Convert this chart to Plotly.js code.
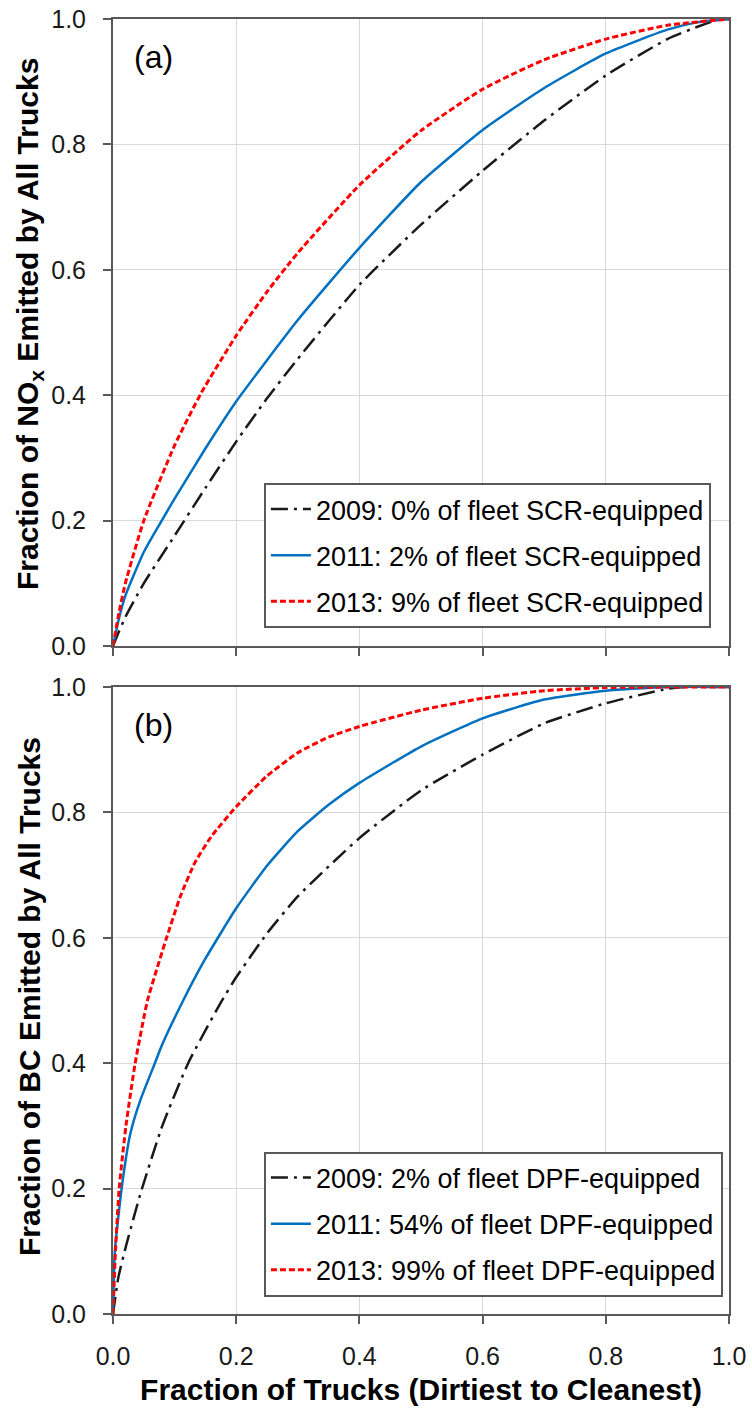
<!DOCTYPE html>
<html>
<head>
<meta charset="utf-8">
<script src="https://cdn.plot.ly/plotly-3.0.1.min.js"></script>
<style>
  html, body { margin: 0; padding: 0; background: #ffffff; }
  #chart { width: 752px; height: 1410px; }
</style>
</head>
<body>
<div id="chart"></div>
<script>
// Cumulative share of emissions vs. cumulative share of trucks (dirtiest first)

// Panel (a): NOx
const noxX2009 = [0, 0.01, 0.02, 0.05, 0.1, 0.15, 0.2, 0.25, 0.3, 0.4, 0.5, 0.6, 0.7, 0.8, 0.9, 0.95, 0.98, 1.0];
const noxY2009 = [0, 0.024, 0.046, 0.10, 0.176, 0.252, 0.326, 0.395, 0.458, 0.576, 0.672, 0.758, 0.838, 0.91, 0.968, 0.988, 0.998, 1.0];

const noxX2011 = [0, 0.01, 0.02, 0.05, 0.076, 0.1, 0.15, 0.2, 0.3, 0.4, 0.5, 0.6, 0.7, 0.8, 0.9, 0.95, 1.0];
const noxY2011 = [0, 0.045, 0.08, 0.15, 0.195, 0.235, 0.315, 0.39, 0.52, 0.635, 0.74, 0.823, 0.89, 0.945, 0.983, 0.995, 1.0];

const noxX2013 = [0, 0.01, 0.02, 0.05, 0.1, 0.144, 0.2, 0.25, 0.3, 0.4, 0.5, 0.6, 0.7, 0.8, 0.9, 1.0];
const noxY2013 = [0, 0.055, 0.1, 0.2, 0.32, 0.405, 0.495, 0.565, 0.627, 0.735, 0.822, 0.888, 0.935, 0.968, 0.99, 1.0];

// Panel (b): black carbon
const bcX2009 = [0, 0.0086, 0.021, 0.044, 0.08, 0.122, 0.174, 0.2, 0.25, 0.3, 0.4, 0.5, 0.6, 0.7, 0.8, 0.9, 0.93, 1.0];
const bcY2009 = [0, 0.058, 0.108, 0.19, 0.30, 0.4, 0.495, 0.537, 0.607, 0.666, 0.759, 0.835, 0.892, 0.942, 0.974, 0.997, 1.0, 1.0];

const bcX2011 = [0, 0.003, 0.014, 0.028, 0.044, 0.068, 0.08, 0.114, 0.149, 0.2, 0.25, 0.3, 0.35, 0.4, 0.5, 0.6, 0.7, 0.8, 0.9, 1.0];
const bcY2011 = [0, 0.1, 0.2, 0.287, 0.34, 0.4, 0.43, 0.5, 0.565, 0.647, 0.715, 0.77, 0.812, 0.847, 0.905, 0.95, 0.98, 0.994, 1.0, 1.0];

const bcX2013 = [0, 0.004, 0.01, 0.021, 0.036, 0.056, 0.087, 0.109, 0.133, 0.16, 0.2, 0.25, 0.3, 0.35, 0.4, 0.5, 0.6, 0.7, 0.8, 1.0];
const bcY2013 = [0, 0.1, 0.2, 0.3, 0.4, 0.5, 0.6, 0.665, 0.72, 0.762, 0.809, 0.858, 0.895, 0.92, 0.937, 0.963, 0.982, 0.994, 0.999, 1.0];

const noxNames = [
  "2009: 0% of fleet SCR-equipped",
  "2011: 2% of fleet SCR-equipped",
  "2013: 9% of fleet SCR-equipped"
];
const bcNames = [
  "2009: 2% of fleet DPF-equipped",
  "2011: 54% of fleet DPF-equipped",
  "2013: 99% of fleet DPF-equipped"
];
const tickVals = [0, 0.2, 0.4, 0.6, 0.8, 1.0];
const tickText = ["0.0", "0.2", "0.4", "0.6", "0.8", "1.0"];

const styles = [
  { color: "#1a1a1a", width: 2.5, dash: "17px,6px,3px,6px" },
  { color: "#0070C0", width: 2.5, dash: "solid" },
  { color: "#FF0000", width: 3, dash: "6px,3px" }
];

function series(xs, ys, name, i, xa, ya, leg) {
  return {
    x: xs, y: ys, name: name, type: "scatter", mode: "lines",
    line: Object.assign({ shape: "spline", smoothing: 0.5 }, styles[i]),
    xaxis: xa, yaxis: ya, legend: leg, legendgroup: leg + i,
    hoverinfo: "skip"
  };
}

const data = [
  series(noxX2009, noxY2009, noxNames[0], 0, "x", "y", "legend"),
  series(noxX2011, noxY2011, noxNames[1], 1, "x", "y", "legend"),
  series(noxX2013, noxY2013, noxNames[2], 2, "x", "y", "legend"),
  series(bcX2009, bcY2009, bcNames[0], 0, "x2", "y2", "legend2"),
  series(bcX2011, bcY2011, bcNames[1], 1, "x2", "y2", "legend2"),
  series(bcX2013, bcY2013, bcNames[2], 2, "x2", "y2", "legend2")
];

const FONT = "Liberation Sans, Arial, sans-serif";
const AXIS_COL = "#595959";

function axisBase() {
  return {
    range: [0, 1], tickvals: tickVals, ticktext: tickText,
    ticks: "outside", ticklen: 8, tickwidth: 2, tickcolor: AXIS_COL,
    showline: true, linecolor: AXIS_COL, linewidth: 2, mirror: true,
    showgrid: true, gridcolor: "#d9d9d9", gridwidth: 1, zeroline: false,
    tickfont: { family: FONT, size: 25, color: "#1a1a1a" },
    automargin: false, fixedrange: true
  };
}

const legendBase = {
  x: 0.245, xanchor: "left", yanchor: "bottom",
  bgcolor: "#ffffff", bordercolor: AXIS_COL, borderwidth: 2,
  font: { family: FONT, size: 27, color: "#000000" },
  tracegroupgap: 8, itemwidth: 40
};

const titleFont = { family: FONT, size: 30, color: "#000000" };

const layout = {
  width: 752, height: 1410,
  margin: { l: 113, r: 23, t: 19, b: 96 },
  paper_bgcolor: "#ffffff", plot_bgcolor: "#ffffff",
  showlegend: true,
  xaxis: Object.assign(axisBase(), { anchor: "y", showticklabels: false }),
  yaxis: Object.assign(axisBase(), { anchor: "x", domain: [0.5158, 1], ticklabelstandoff: 12 }),
  xaxis2: Object.assign(axisBase(), {
    anchor: "y2", ticklabelstandoff: 11,
    title: { text: "<b>Fraction of Trucks (Dirtiest to Cleanest)</b>", font: titleFont, standoff: 10 }
  }),
  yaxis2: Object.assign(axisBase(), { anchor: "x2", domain: [0, 0.4842], ticklabelstandoff: 12 }),
  legend: Object.assign({}, legendBase, { y: 0.5297 }),
  legend2: Object.assign({}, legendBase, { y: 0.0135 }),
  annotations: [
    { text: "<b>Fraction of NO<sub>x</sub> Emitted by All Trucks</b>", textangle: -90,
      x: -0.1347, y: 0.7645, xref: "paper", yref: "paper", xanchor: "center", yanchor: "middle",
      showarrow: false, font: titleFont },
    { text: "<b>Fraction of BC Emitted by All Trucks</b>", textangle: -90,
      x: -0.1347, y: 0.2448, xref: "paper", yref: "paper", xanchor: "center", yanchor: "middle",
      showarrow: false, font: titleFont },
    { text: "(a)", x: 0.065, y: 0.939, xref: "x", yref: "y", showarrow: false,
      font: { family: FONT, size: 32, color: "#000000" } },
    { text: "(b)", x: 0.065, y: 0.939, xref: "x2", yref: "y2", showarrow: false,
      font: { family: FONT, size: 32, color: "#000000" } }
  ]
};

Plotly.newPlot("chart", data, layout, { displayModeBar: false, staticPlot: true });
</script>
</body>
</html>
